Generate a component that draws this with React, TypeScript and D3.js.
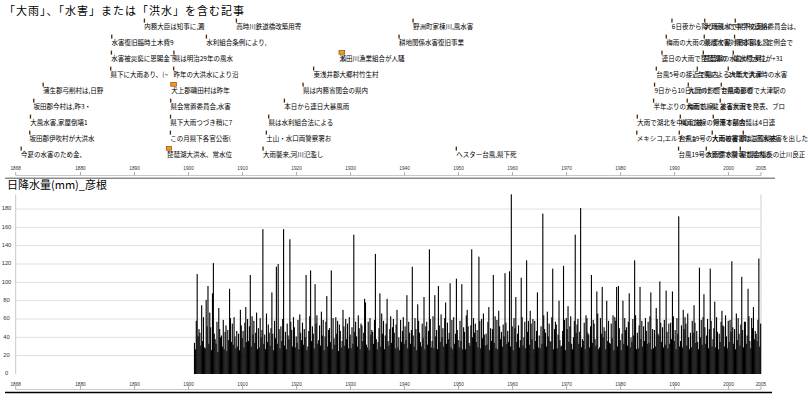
import React from "react";
import * as d3 from "d3";

const W = 808;
const H = 404;

const firstYear = 1868;
const lastYear = 2005;
const rainFirstYear = 1901;
const axisYears = [1868, 1880, 1890, 1900, 1910, 1920, 1930, 1940, 1950, 1960, 1970, 1980, 1990, 2000, 2005];
const yTicks = [0, 20, 40, 60, 80, 100, 120, 140, 160, 180];

const titleTop = "「大雨」、「水害」または「洪水」を含む記事";
const titleBottom = "日降水量(mm)_彦根";

// article dates (decimal year); ranged articles have an end date
const eventStart = [
  1868.93, 1870.52, 1870.65, 1871.26, 1873.0, 1885.51, 1885.64, 1885.7, 1891.75,
  1895.95, 1896.56, 1896.58, 1896.62, 1896.75, 1897.17, 1897.21, 1903.23, 1908.78,
  1913.72, 1914.33, 1914.76, 1917.67, 1921.13, 1923.09, 1927.9, 1938.9, 1941.49,
  1949.5, 1982.92, 1983.01, 1986.03, 1986.21, 1986.53, 1987.58, 1988.38, 1989.43,
  1990.65, 1990.78, 1990.97, 1992.26, 1992.45, 1994.12, 1995.23, 1995.41, 1995.5,
  1995.78, 1996.89, 1997.07, 1998.37, 1998.56, 1999.85, 2000.78, 2001.02, 2001.15,
  2002.08, 2002.63,
];
const eventEnd: (number | null)[] = [
  null, null, null, null, null, null, null, null, null,
  1896.88, null, null, null, 1897.8, null, null, null, null,
  null, null, null, null, null, null, 1928.96, null, null,
  null, null, null, null, null, null, null, null, null,
  null, null, null, null, null, null, null, null, null,
  null, null, null, null, null, null, null, null, null,
  null, null,
];
const eventTitle = [
  "今夏の水害のため金、", "坂田郡伊吹村が大洪水", "大風水害,家屋倒壊1", "坂田郡今村は,昨3・", "蒲生郡弓削村は,日野",
  "県下に大雨あり、(~", "水害被災窮に恩賜金下", "水害復旧臨時土木費9", "内務大臣は知事に,澱",
  "琵琶湖大洪水、常水位", "この月県下各官公衙(", "県下大雨つづき稍に7", "県会常置委員会,水害", "犬上郡磯田村は昨年",
  "昨年の大洪水により沿", "県は明治29年の風水", "水利組合条例により,", "高時川鉄道橋改築用寄",
  "大雨襲来,河川氾濫し", "土山・水口両警察署お", "県は水利組合法による", "本日から連日大暴風雨", "県は内務省関会の県内",
  "東浅井郡大郷村竹生村", "瀬田川漁業組合が人騒", "耕地関係水害復旧事業", "野洲町家棟川,風水害",
  "ヘスター台風,県下死", "メキシコ,エルチチョ", "大雨で湖北を中心に被", "半年ぶりの大雨で、県", "9日から10日にかけて",
  "台風5号の接近で県内", "連日の大雨で琵琶湖の", "梅雨の大雨の影響で県", "6日夜から降り続いた",
  "台風19号の影響で県", "台風19号の大雨被害で", "梅雨前線の停滞で県内", "梅雨前線による大雨で", "大雨の影響で県南部の",
  "台風による大雨で大津", "琵琶湖の水位が上昇し", "県は水害対策本部を設", "大雨浸水で県下の河川",
  "大雨洪水警報で県内の", "大雨の被害は滋賀県内", "対策本部会議は4日連", "被害状況を発表、ブロ", "台風の影響で大津駅の",
  "29年大洪水時の水害", "量水標水位が+31", "県知事は、定例会で", "中学校連絡委員会は、",
  "県議会議長の辻川良正", "町に高水被害を出した",
];

// bimonthly maximum daily rainfall (mm), one row per year, Jan-Feb ... Nov-Dec
const rain1901s = [
  [34, 27, 58, 109, 41, 49], [45, 31, 75, 36, 62, 29], [28, 81, 52, 96, 33, 67], [51, 26, 88, 121, 44, 38],
  [33, 57, 24, 72, 49, 40], [42, 30, 59, 27, 46, 53], [25, 48, 37, 93, 61, 35], [55, 32, 62, 41, 28, 47],
  [30, 44, 26, 70, 53, 39], [47, 29, 56, 73, 35, 60],
];
const rain1911s = [
  [36, 52, 108, 30, 63, 43], [58, 34, 45, 67, 27, 50], [29, 61, 40, 48, 158, 33], [43, 27, 66, 35, 54, 45],
  [31, 50, 89, 44, 26, 58], [39, 117, 33, 120, 49, 28], [52, 36, 60, 158, 31, 46], [27, 55, 42, 38, 147, 57],
  [48, 30, 62, 51, 29, 41], [34, 59, 27, 65, 45, 37],
];
const rain1921s = [
  [56, 32, 49, 40, 108, 26], [30, 47, 63, 113, 36, 52], [44, 28, 98, 55, 64, 33], [37, 53, 31, 68, 42, 59],
  [26, 41, 57, 85, 30, 48], [50, 35, 113, 27, 61, 39], [32, 62, 44, 58, 25, 54], [47, 29, 36, 70, 52, 31],
  [60, 38, 55, 28, 62, 43], [28, 51, 33, 152, 46, 57],
];
const rain1931s = [
  [41, 30, 64, 50, 27, 55], [53, 36, 45, 82, 78, 32], [29, 57, 26, 61, 43, 48], [46, 33, 59, 131, 38, 27],
  [35, 50, 88, 30, 66, 44], [58, 27, 42, 55, 82, 36], [31, 49, 63, 34, 51, 60], [45, 28, 54, 70, 29, 40],
  [26, 59, 35, 47, 62, 33], [52, 37, 86, 28, 57, 45],
];
const rain1941s = [
  [33, 48, 117, 42, 30, 61], [49, 26, 76, 58, 45, 35], [30, 55, 39, 84, 27, 52], [57, 32, 47, 136, 60, 29],
  [36, 63, 28, 86, 41, 48], [27, 96, 53, 35, 65, 40], [50, 30, 61, 78, 33, 56], [38, 45, 99, 29, 59, 27],
  [62, 33, 44, 104, 48, 37], [29, 58, 36, 98, 27, 51],
];
const rain1951s = [
  [46, 27, 64, 70, 52, 34], [31, 53, 136, 40, 61, 45], [55, 35, 48, 29, 128, 58], [28, 60, 39, 66, 43, 31],
  [44, 32, 57, 73, 26, 50], [36, 49, 108, 34, 63, 28], [59, 27, 69, 52, 38, 46], [30, 54, 41, 110, 56, 33],
  [47, 35, 112, 30, 196, 52], [26, 61, 50, 84, 35, 44],
];
const rain1961s = [
  [53, 29, 37, 105, 62, 31], [40, 57, 28, 124, 46, 58], [32, 69, 55, 38, 60, 27], [58, 36, 47, 89, 29, 42],
  [28, 52, 33, 175, 64, 49], [45, 30, 68, 41, 55, 36], [35, 62, 115, 27, 49, 57], [54, 28, 43, 80, 37, 30],
  [31, 47, 118, 59, 26, 61], [49, 74, 35, 52, 63, 33],
];
const rain1971s = [
  [27, 40, 58, 152, 45, 54], [60, 33, 46, 181, 29, 38], [36, 56, 27, 64, 61, 45], [43, 29, 52, 108, 34, 59],
  [55, 38, 31, 90, 66, 27], [29, 61, 44, 95, 40, 51], [47, 27, 80, 36, 58, 34], [33, 55, 39, 64, 26, 62],
  [58, 95, 30, 96, 50, 37], [26, 44, 80, 33, 61, 48],
];
const rain1981s = [
  [51, 31, 57, 88, 29, 40], [35, 60, 42, 124, 64, 27], [45, 28, 53, 95, 38, 58], [30, 52, 36, 61, 47, 33],
  [57, 34, 63, 89, 27, 49], [28, 48, 30, 72, 60, 44], [42, 101, 56, 35, 51, 29], [59, 32, 91, 46, 28, 55],
  [33, 56, 38, 90, 63, 36], [48, 27, 61, 44, 172, 30],
];
const rain1991s = [
  [36, 53, 29, 70, 49, 62], [55, 31, 66, 40, 27, 45], [29, 58, 45, 75, 56, 34], [47, 35, 27, 116, 40, 59],
  [32, 62, 87, 51, 33, 42], [60, 28, 49, 115, 58, 30], [38, 50, 79, 29, 62, 46], [27, 44, 35, 57, 69, 53],
  [52, 30, 64, 41, 28, 58], [35, 59, 46, 123, 51, 33],
];
const rain2001s = [
  [49, 27, 66, 37, 61, 44], [31, 54, 106, 48, 29, 57], [57, 33, 42, 93, 63, 36], [28, 61, 50, 73, 38, 47],
  [44, 36, 59, 126, 30, 55],
];

const CJK = "'Noto Sans CJK JP', 'Noto Sans CJK SC', sans-serif";
const NUM = "'Liberation Sans', Arial, sans-serif";

export default function App() {
  const x = d3.scaleLinear().domain([firstYear, lastYear + 1]).range([15.7, 761]);
  const y = d3.scaleLinear().domain([0, 180]).range([374, 209]);

  const years = [
    ...rain1901s, ...rain1911s, ...rain1921s, ...rain1931s, ...rain1941s,
    ...rain1951s, ...rain1961s, ...rain1971s, ...rain1981s, ...rain1991s, ...rain2001s,
  ];
  const bars: { t0: number; t1: number; v: number }[] = [];
  years.forEach((row, yi) => {
    const yr = rainFirstYear + yi;
    row.forEach((v, k) => {
      bars.push({ t0: yr + k / row.length, t1: yr + (k + 1) / row.length, v });
    });
  });
  const vmax = d3.max(bars, (b) => b.v) as number;
  const plotTop = y(vmax);
  const x0 = x.range()[0];
  const x1 = x.range()[1];

  const tickPos = (yr: number) => (yr === lastYear ? x(lastYear + 1) : x(yr));
  const nRows = 9;
  const rowY = (r: number) => 27 + r * 16;

  const axis = (labelBase: number, lineY: number, key: string) => (
    <g key={key}>
      <line x1={x0} x2={x1} y1={lineY} y2={lineY} stroke="#c8c8c8" strokeWidth={1} />
      {axisYears.map((yr) => (
        <g key={yr}>
          <line x1={tickPos(yr)} x2={tickPos(yr)} y1={lineY - 3.5} y2={lineY} stroke="#999" strokeWidth={0.8} />
          <text
            x={tickPos(yr)}
            y={labelBase}
            fontSize={6}
            fontFamily={NUM}
            textAnchor="middle"
            fill="#333"
            textLength={10.5}
            lengthAdjust="spacingAndGlyphs"
          >
            {yr}
          </text>
        </g>
      ))}
    </g>
  );

  return (
    <svg
      width={W}
      height={H}
      viewBox={`0 0 ${W} ${H}`}
      style={{ position: "absolute", left: 0, top: 0, background: "#fff" }}
    >
      <rect x={0} y={0} width={W} height={H} fill="#fff" />
      <text
        x={4}
        y={15}
        fontSize={11}
        fontFamily={CJK}
        fill="#000"
        textLength={240}
        lengthAdjust="spacing"
      >
        {titleTop}
      </text>

      {eventStart.map((t, i) => {
        const r = nRows - 1 - (i % nRows);
        const cy = rowY(r);
        const end = eventEnd[i];
        const xs = x(t);
        const ranged = end !== null;
        const w = ranged ? x(end as number) - xs : 1.3;
        return (
          <g key={i}>
            <rect
              x={xs - 0.2}
              y={cy - 8.4}
              width={w}
              height={ranged ? 3.6 : 4}
              fill={ranged ? "#f29a1e" : "#4a2a0a"}
              stroke={ranged ? "#8a4a08" : "none"}
              strokeWidth={0.7}
            />
            <text x={xs + 0.3} y={cy + 2.4} fontSize={6.5} fontFamily={CJK} fill="#000">
              {eventTitle[i]}
            </text>
          </g>
        );
      })}

      {axis(170, 175.5, "top")}
      <line x1={5} x2={775} y1={178.3} y2={178.3} stroke="#8c8c8c" strokeWidth={1.4} />

      <text x={7} y={189} fontSize={11} fontFamily={CJK} fill="#000">
        {titleBottom}
      </text>

      {yTicks.map((t) => (
        <g key={t}>
          {t > 0 && <line x1={x0} x2={x1} y1={y(t)} y2={y(t)} stroke="#e0e0e0" strokeWidth={1} />}
          <text
            x={6.5}
            y={y(t) + 1.4}
            fontSize={6}
            fontFamily={NUM}
            textAnchor="middle"
            fill="#333"
            textLength={String(t).length * 3.2}
            lengthAdjust="spacingAndGlyphs"
          >
            {t}
          </text>
        </g>
      ))}
      <line x1={x0} x2={x0} y1={plotTop} y2={y(0)} stroke="#c8c8c8" strokeWidth={1} />
      <line x1={x1} x2={x1} y1={plotTop} y2={y(0)} stroke="#e2e2e2" strokeWidth={1.6} />

      <g>
        {bars.map((b, i) => (
          <rect
            key={i}
            x={x(b.t0)}
            y={y(b.v)}
            width={x(b.t1) - x(b.t0) + 0.2}
            height={y(0) - y(b.v)}
            fill="#000"
          />
        ))}
      </g>

      {axis(386, 389.5, "bottom")}
      <line x1={5} x2={772} y1={392.5} y2={392.5} stroke="#000" strokeWidth={1.6} />
    </svg>
  );
}
